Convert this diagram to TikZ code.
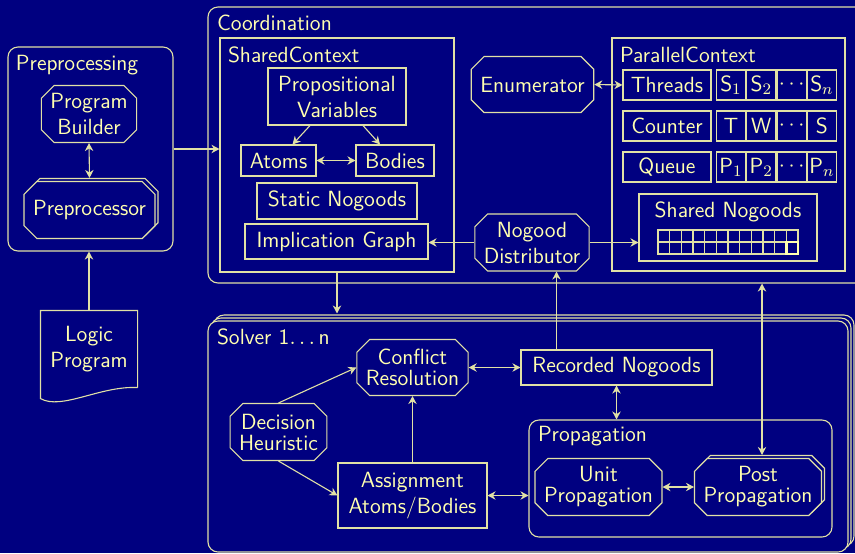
\documentclass[tikz,border=0pt]{standalone}
\usepackage{fontspec}
\usetikzlibrary{arrows.meta, positioning, shapes.misc, shadows}

\definecolor{bg}{RGB}{0,0,128}
\definecolor{fg}{RGB}{255,255,175}
\definecolor{ln}{RGB}{225,225,165}

\begin{document}
\begin{tikzpicture}[
    x=0.5pt, y=-0.5pt, line width=0.55pt,
    every node/.style={font=\sffamily\fontsize{11}{13}\selectfont, text=fg},
    tight/.style={font=\sffamily\fontsize{11}{10.5}\selectfont},
    group/.style={draw=ln, fill=bg, rounded corners=5pt},
    ctx/.style={draw=ln, fill=bg},
    box/.style={draw=ln, align=center, inner sep=1pt},
    oct/.style={draw=ln, fill=bg, chamfered rectangle, chamfered rectangle xsep=3.5pt, align=center, inner sep=1pt},
    cell/.style={draw=ln, minimum width=14.6pt, minimum height=15pt, inner sep=0pt},
    stacked/.style={copy shadow={shadow xshift=1.5pt, shadow yshift=1.5pt, draw=ln, fill=bg}},
    grouplabel/.style={anchor=west, inner sep=0pt},
    arrow/.style={draw=ln, -{Stealth[length=4pt, width=4.2pt, inset=1.3pt]}},
    darrow/.style={draw=ln, {Stealth[length=4pt, width=4.2pt, inset=1.3pt]}-{Stealth[length=4pt, width=4.2pt, inset=1.3pt]}}
]
\clip (0,0) rectangle (855,553);
\fill[bg] (0,0) rectangle (855,553);

% Preprocessing
\node[group, minimum width=82.5pt, minimum height=102pt] (pre) at (90.5,149) {};
\node[grouplabel] (prelabel) at ([xshift=4pt, yshift=-9.5pt]pre.north west) {Preprocessing};
\node[oct, minimum width=45pt, minimum height=28.5pt] (builder) at (89,114) {Program\\Builder};
\node[oct, stacked, minimum width=64.5pt, minimum height=28.5pt] (preproc) at (89.5,210) {Preprocessor};

% Logic program
\node[align=center, minimum width=48pt, minimum height=38pt] (logic) at (89,349) {Logic\\Program};
\draw[ln] (logic.south east) -- (logic.north east) -- (logic.north west) -- ([yshift=-5.5pt]logic.south west)
    .. controls ([xshift=10.5pt, yshift=-11.5pt]logic.south west) and ([xshift=-18.5pt, yshift=1pt]logic.south east) .. (logic.south east);

% Coordination
\node[group, minimum width=331pt, minimum height=138pt] (coord) at (539,145) {};
\node[grouplabel] (coordlabel) at ([xshift=4.5pt, yshift=-8pt]coord.north west) {Coordination};

% SharedContext
\node[ctx, minimum width=117pt, minimum height=117pt] (shared) at (337,155) {};
\node[grouplabel] (sharedlabel) at ([xshift=4pt, yshift=-8.5pt]shared.north west) {SharedContext};
\node[box, minimum width=69pt, minimum height=28.5pt] (prop) at (337,96.5) {Propositional\\Variables};
\node[box, minimum width=37.5pt, minimum height=15.5pt] (atoms) at (278.5,160.5) {Atoms};
\node[box, minimum width=39pt, minimum height=15.5pt] (bodies) at (395,160.5) {Bodies};
\node[box, minimum width=80pt, minimum height=18pt] (static) at (337,201) {Static Nogoods};
\node[box, minimum width=91.5pt, minimum height=17.5pt] (impl) at (336.5,241.5) {Implication Graph};

% Enumerator and distributor
\node[oct, minimum width=60.5pt, minimum height=28pt] (enum) at (532.5,84.5) {Enumerator};
\node[oct, minimum width=56pt, minimum height=28pt] (dist) at (532,242.5) {Nogood\\Distributor};

% ParallelContext
\node[ctx, minimum width=116.5pt, minimum height=116.5pt] (parallel) at (728.5,154.5) {};
\node[grouplabel] (parallellabel) at ([xshift=4pt, yshift=-8.5pt]parallel.north west) {ParallelContext};
\node[box, minimum width=44pt, minimum height=15pt] (threads) at (667,85) {Threads};
\node[cell] (s1) at (731,85) {S$_1$};
\node[cell, right=0 of s1] (s2) {S$_2$};
\node[cell, right=0 of s2] (s3) {$\cdots$};
\node[cell, right=0 of s3] (s4) {S$_n$};
\node[box, minimum width=44pt, minimum height=15pt] (counter) at (667,126) {Counter};
\node[cell] (c1) at (731,126) {T};
\node[cell, right=0 of c1] (c2) {W};
\node[cell, right=0 of c2] (c3) {$\cdots$};
\node[cell, right=0 of c3] (c4) {S};
\node[box, minimum width=44pt, minimum height=15pt] (queue) at (667,167) {Queue};
\node[cell] (q1) at (731,167) {P$_1$};
\node[cell, right=0 of q1] (q2) {P$_2$};
\node[cell, right=0 of q2] (q3) {$\cdots$};
\node[cell, right=0 of q3] (q4) {P$_n$};
\node[box, minimum width=89pt, minimum height=33.5pt] (sng) at (728,227.5) {};
\node[inner sep=0pt] (snglabel) at ([yshift=-9pt]sng.north) {Shared Nogoods};
\foreach \i in {0,...,11}
  \foreach \j in {0,1}
    \draw[ln] (658+\i*11.667,230+\j*12) rectangle ++(11.667,12);
\draw[fg, line width=1.2pt] (786.3,242) rectangle (798,254);

% Solver
\node[group, minimum width=320pt, minimum height=115.5pt,
      copy shadow={shadow xshift=3pt, shadow yshift=3pt, draw=ln, fill=bg},
      copy shadow={shadow xshift=1.5pt, shadow yshift=1.5pt, draw=ln, fill=bg}] (solver) at (528,436.5) {};
\node[grouplabel] (solverlabel) at ([xshift=4.5pt, yshift=-8pt]solver.north west) {Solver 1$\ldots$\,n};
\node[oct, tight, minimum width=53.5pt, minimum height=28pt] (conf) at (412.5,367.5) {Conflict\\Resolution};
\node[box, minimum width=95.5pt, minimum height=17.5pt] (rec) at (616.5,367.5) {Recorded Nogoods};
\node[oct, tight, minimum width=46.5pt, minimum height=28.5pt] (dec) at (278.5,432) {Decision\\Heuristic};
\node[box, minimum width=74.5pt, minimum height=32.5pt] (assign) at (412.5,495.5) {Assignment\\Atoms/Bodies};

% Propagation
\node[group, minimum width=151.5pt, minimum height=58.5pt] (propg) at (680.5,478.5) {};
\node[grouplabel] (propglabel) at ([xshift=4.5pt, yshift=-8.5pt]propg.north west) {Propagation};
\node[oct, tight, minimum width=61.5pt, minimum height=28.5pt] (unit) at (598.5,487) {Unit\\Propagation};
\node[oct, tight, stacked, minimum width=62pt, minimum height=28.5pt] (post) at (758,487) {Post\\Propagation};

% Connectors
\draw[darrow] (builder.south) -- ([yshift=1.5pt]preproc.north);
\draw[arrow] (logic.north) -- (logic.north |- pre.south);
\draw[arrow] (pre.east) -- (pre.east -| shared.west);
\draw[arrow] ([xshift=-13.5pt]prop.south) -- ([xshift=7pt]atoms.north);
\draw[arrow] ([xshift=13pt]prop.south) -- ([xshift=-7.5pt]bodies.north);
\draw[darrow] (atoms.east) -- (bodies.west);
\draw[darrow] (enum.east) -- (threads.west);
\draw[arrow] (dist.west) -- (dist.west -| impl.east);
\draw[arrow] (dist.east) -- (dist.east -| sng.west);
\draw[arrow] ([xshift=-30pt]rec.north) -- ([xshift=-30pt]rec.north |- dist.south);
\draw[arrow] (shared.south) -- ([yshift=3.5pt]shared.south |- solver.north);
\draw[darrow] ([xshift=2pt, yshift=1.5pt]post.north) -- ([xshift=2pt]post.north |- coord.south);
\draw[darrow] (conf.east) -- (rec.west);
\draw[arrow] (dec.north) -- (conf.west);
\draw[arrow] (dec.south) -- (assign.west);
\draw[arrow] (assign.north) -- (conf.south);
\draw[darrow] (assign.east) -- (assign.east -| propg.west);
\draw[darrow] (rec.south) -- (rec.south |- propg.north);
\draw[darrow] (unit.east) -- (post.west);

\end{tikzpicture}
\end{document}
